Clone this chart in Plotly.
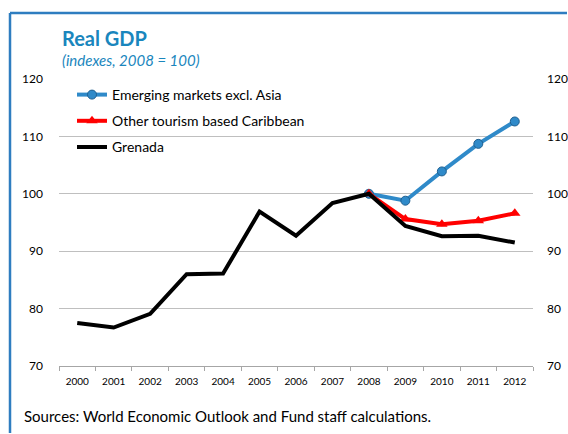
import plotly.graph_objects as go

years = [str(y) for y in range(2000, 2013)]
grenada = [77.5, 76.7, 79.1, 86.0, 86.1, 96.9, 92.7, 98.4, 100.0, 94.4, 92.6, 92.7, 91.5]
em_years = ["2008", "2009", "2010", "2011", "2012"]
emerging = [100.0, 98.8, 103.9, 108.7, 112.6]
caribbean = [100.0, 95.6, 94.7, 95.3, 96.6]

FONT = "Lato, 'Open Sans', sans-serif"
W, H = 568, 434
L, R, T, B = 59, 35, 79, 68
pw, ph = W - L - R, H - T - B


def px_x(x):
    return (x - L) / pw


def px_y(y):
    return 1 - (y - T) / ph


fig = go.Figure()
fig.add_trace(go.Scatter(
    x=em_years, y=emerging, name="Emerging markets excl. Asia",
    mode="lines+markers", legendgroup="a",
    line=dict(color="#2f8ac9", width=4),
    marker=dict(symbol="circle", size=9, color="#2f8ac9",
                line=dict(color="#1f5f8f", width=1)),
))
fig.add_trace(go.Scatter(
    x=em_years, y=caribbean, name="Other tourism based Caribbean",
    mode="lines+markers", legendgroup="b",
    line=dict(color="#ff0000", width=4),
    marker=dict(symbol="triangle-up", size=10, color="#ff0000"),
))
fig.add_trace(go.Scatter(
    x=years, y=grenada, name="Grenada",
    mode="lines", legendgroup="c",
    line=dict(color="#000000", width=4),
))
# invisible trace to carry the right-hand axis
fig.add_trace(go.Scatter(x=years, y=grenada, xaxis="x", yaxis="y2", mode="lines",
                         line=dict(width=0), hoverinfo="skip",
                         showlegend=False, opacity=0))

yaxis_common = dict(
    range=[70, 120], tickvals=[70, 80, 90, 100, 110, 120],
    tickfont=dict(family=FONT, size=12, color="#000000"),
    showline=False, zeroline=False, ticks="", automargin=False,
)

fig.update_layout(
    width=W, height=H, autosize=False,
    margin=dict(l=L, r=R, t=T, b=B, autoexpand=False),
    paper_bgcolor="white", plot_bgcolor="white",
    font=dict(family=FONT, color="#000000"),
    showlegend=True,
    legend=dict(
        x=px_x(72), y=px_y(79), xanchor="left", yanchor="top",
        bgcolor="rgba(0,0,0,0)", font=dict(family=FONT, size=14),
        traceorder="grouped", tracegroupgap=5, itemwidth=30,
    ),
    xaxis=dict(
        type="category", categoryorder="array", categoryarray=years,
        range=[-0.5, 12.5], automargin=False,
        tickfont=dict(family=FONT, size=10, color="#000000"),
        showgrid=False, showline=True, linecolor="#a6a6a6", linewidth=1,
        ticks="outside", tickson="boundaries", ticklen=4, tickcolor="#a6a6a6",
        zeroline=False, ticklabelstandoff=6,
    ),
    yaxis=dict(**yaxis_common, showgrid=True, gridcolor="#bfbfbf", gridwidth=1,
               ticklabelstandoff=15),
    yaxis2=dict(**yaxis_common, overlaying="y", side="right", showgrid=False,
                ticklabelstandoff=13),
)

# panel frame: left edge and top edge
fig.add_shape(type="line", xref="paper", yref="paper",
              x0=px_x(10), x1=px_x(10), y0=px_y(13), y1=px_y(H - 1),
              line=dict(color="#2e7dc0", width=2.5), layer="above")
fig.add_shape(type="line", xref="paper", yref="paper",
              x0=px_x(10), x1=px_x(W - 1), y0=px_y(13), y1=px_y(13),
              line=dict(color="#2e7dc0", width=2.5), layer="above")

fig.add_annotation(text="<b>Real GDP</b>", xref="paper", yref="paper",
                   x=px_x(60), y=px_y(38), xanchor="left", yanchor="middle",
                   showarrow=False,
                   font=dict(family=FONT, size=20, color="#1a86bd"))
fig.add_annotation(text="<i>(indexes, 2008 = 100)</i>", xref="paper", yref="paper",
                   x=px_x(60), y=px_y(60), xanchor="left", yanchor="middle",
                   showarrow=False,
                   font=dict(family=FONT, size=15, color="#1a86bd"))
fig.add_annotation(text="Sources: World Economic Outlook and Fund staff calculations.",
                   xref="paper", yref="paper",
                   x=px_x(22), y=px_y(416), xanchor="left", yanchor="middle",
                   showarrow=False,
                   font=dict(family=FONT, size=15, color="#000000"))

fig.write_html("out.html")
